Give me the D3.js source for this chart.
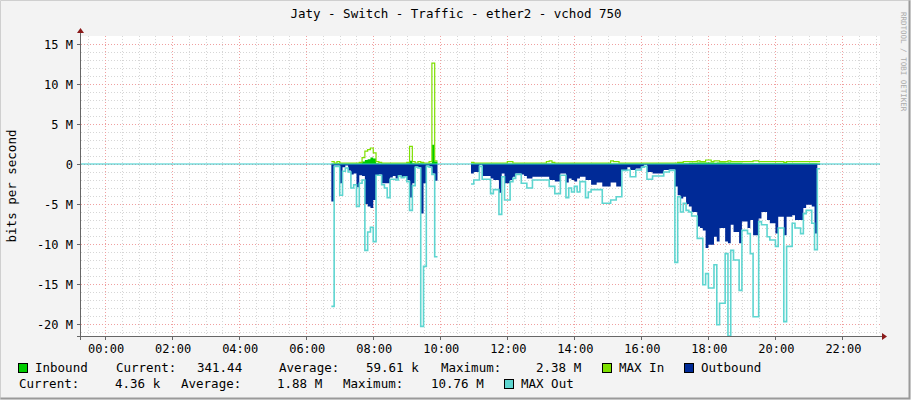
<!DOCTYPE html>
<html><head><meta charset="utf-8">
<script src="https://cdn.jsdelivr.net/npm/d3@7"></script>
<style>body{margin:0;background:#fff}text{font-family:"DejaVu Sans Mono",monospace;white-space:pre}</style>
</head><body><svg id="c" width="911" height="400"></svg>
<script>
// 5-minute samples starting 06:45, values in Mbit/s, null = no data
const startHour = 6.75, stepHours = 5 / 60;
const outAvg = [-4.7,-0.2,-0.2,-2.4,-0.4,-0.2,-0.8,-1.3,-1.2,-2.9,-1.4,-1.5,-5.0,-5.3,-5.5,-4.5,-1.4,-1.3,-2.4,-2.4,
  -2.4,-1.7,-1.5,-1.8,-1.4,-1.6,-1.5,-2.0,-4.2,-2.4,-0.3,-0.4,-6.2,-2.4,-0.2,-0.3,-1.2,-2.1,
  null,null,null,null,null,null,null,null,null,null,null,null,
  -1.2,-1.0,-1.0,-0.1,-1.5,-1.5,-1.5,-1.8,-2.0,-2.0,-3.6,-1.2,-2.4,-2.4,-2.0,-1.6,-1.2,-1.2,-1.3,-1.5,
  -1.8,-1.8,-1.6,-1.6,-1.6,-1.6,-1.6,-1.6,-2.0,-2.0,-2.2,-2.2,-1.2,-1.2,-2.3,-1.8,-2.0,-2.2,-1.8,-1.6,
  -1.6,-2.0,-2.0,-2.6,-2.6,-2.3,-2.3,-2.8,-2.8,-2.8,-2.3,-2.3,-2.8,-2.8,-0.75,-0.75,-0.4,-0.75,-0.75,-0.55,
  -0.55,-0.3,-0.1,-1.0,-1.0,-1.2,-1.2,-1.2,-1.2,-0.75,-0.75,-0.7,-0.7,-2.8,-3.9,-4.3,-4.1,-5.0,-5.3,-6.0,
  -6.0,-7.8,-8.0,-8.3,-10.5,-10.1,-10.1,-9.1,-9.7,-8.0,-8.0,-9.7,-9.9,-7.6,-8.5,-8.5,-9.9,-7.2,-7.2,-8.0,
  -7.0,-8.9,-8.9,-6.8,-6.0,-6.0,-7.0,-7.4,-7.4,-8.7,-6.6,-6.6,-8.9,-6.6,-6.6,-6.4,-7.0,-7.0,-7.0,-5.5,
  -5.1,-5.1,-5.3,-8.7,-0.1];
const outMax = [-17.8,-0.3,-0.3,-3.9,-0.9,-0.5,-1.0,-3.0,-2.6,-5.3,-2.4,-2.0,-10.8,-8.5,-7.9,-9.7,-1.4,-1.4,-2.6,-3.0,
  -4.2,-1.9,-1.9,-2.0,-1.5,-1.7,-1.6,-2.2,-5.8,-2.7,-0.4,-0.5,-20.3,-12.8,-0.3,-0.4,-1.3,-11.6,
  null,null,null,null,null,null,null,null,null,null,null,null,
  -2.5,-2.0,-2.0,-0.3,-1.9,-1.9,-1.9,-3.7,-3.2,-3.2,-6.3,-1.6,-4.5,-4.5,-2.2,-1.8,-1.3,-1.3,-2.4,-2.4,
  -3.0,-3.0,-2.0,-2.0,-2.0,-2.0,-2.0,-2.0,-2.8,-2.8,-3.7,-3.7,-1.4,-1.4,-4.2,-3.0,-3.5,-2.8,-3.5,-2.2,
  -2.2,-4.2,-3.5,-3.2,-3.2,-3.2,-3.2,-4.9,-4.9,-4.9,-4.5,-4.5,-4.1,-4.1,-0.8,-0.8,-0.75,-1.6,-1.6,-0.75,
  -0.75,-0.4,-0.3,-1.9,-1.9,-1.5,-1.5,-1.5,-1.5,-1.0,-1.0,-0.8,-0.8,-12.3,-4.1,-6.0,-4.9,-5.8,-6.0,-6.5,
  -6.5,-9.3,-9.3,-15.1,-13.7,-15.5,-15.5,-12.6,-20.1,-17.4,-17.4,-11.2,-21.5,-10.8,-12.0,-12.0,-15.8,-8.3,-8.3,-8.7,
  -11.2,-19.1,-19.1,-7.2,-7.6,-7.6,-9.1,-9.5,-9.5,-10.3,-8.0,-8.0,-19.7,-10.3,-10.3,-7.4,-8.0,-8.0,-8.7,-6.2,
  -5.8,-5.8,-7.4,-10.7,-0.6];
const inAvg = [0.05,0.1,0.1,0.05,0.05,0.05,0.05,0.05,0.05,0.05,0.1,0.3,0.5,0.6,0.8,0.7,0.1,0.05,0.05,0.05,
  0.05,0.05,0.05,0.05,0.05,0.05,0.05,0.1,0.4,0.1,0.05,0.1,0.1,0.05,0.05,0.1,2.4,0.3,
  null,null,null,null,null,null,null,null,null,null,null,null,
  0.05,0.05,0.05,0.05,0.05,0.05,0.05,0.05,0.05,0.05,0.05,0.05,0.05,0.05,0.05,0.05,0.05,0.05,0.05,0.05,
  0.05,0.05,0.05,0.05,0.05,0.05,0.05,0.05,0.05,0.05,0.05,0.05,0.05,0.05,0.05,0.05,0.05,0.05,0.05,0.05,
  0.05,0.05,0.05,0.05,0.05,0.05,0.05,0.05,0.05,0.05,0.05,0.05,0.05,0.05,0.05,0.05,0.05,0.05,0.05,0.05,
  0.05,0.05,0.05,0.05,0.05,0.05,0.05,0.05,0.05,0.05,0.05,0.05,0.05,0.05,0.1,0.1,0.1,0.1,0.15,0.15,
  0.15,0.2,0.2,0.2,0.2,0.2,0.2,0.15,0.2,0.2,0.2,0.15,0.2,0.15,0.15,0.15,0.15,0.1,0.1,0.1,
  0.1,0.1,0.1,0.1,0.1,0.1,0.1,0.1,0.1,0.1,0.1,0.1,0.1,0.1,0.1,0.1,0.1,0.1,0.1,0.1,
  0.1,0.1,0.1,0.1,0.05];
const inMax = [0.3,0.1,0.3,0.1,0.1,0.1,0.1,0.1,0.1,0.1,0.2,0.8,1.6,1.8,2.0,1.4,0.3,0.2,0.1,0.1,
  0.1,0.1,0.1,0.1,0.1,0.1,0.1,0.2,2.2,0.3,0.1,0.3,0.2,0.1,0.1,0.3,12.6,0.4,
  null,null,null,null,null,null,null,null,null,null,null,null,
  0.2,0.1,0.1,0.1,0.1,0.1,0.1,0.1,0.1,0.1,0.1,0.1,0.1,0.3,0.3,0.1,0.1,0.1,0.1,0.1,
  0.1,0.1,0.1,0.1,0.1,0.1,0.1,0.3,0.4,0.2,0.1,0.1,0.1,0.1,0.1,0.1,0.1,0.1,0.1,0.1,
  0.1,0.1,0.1,0.1,0.1,0.1,0.1,0.1,0.1,0.1,0.4,0.3,0.3,0.1,0.1,0.1,0.1,0.1,0.1,0.1,
  0.1,0.1,0.1,0.1,0.1,0.1,0.1,0.1,0.1,0.1,0.1,0.1,0.1,0.1,0.2,0.2,0.3,0.3,0.3,0.3,
  0.3,0.4,0.3,0.3,0.5,0.5,0.3,0.4,0.4,0.3,0.3,0.3,0.4,0.3,0.3,0.3,0.3,0.3,0.3,0.3,
  0.3,0.4,0.4,0.3,0.3,0.3,0.3,0.3,0.3,0.3,0.3,0.3,0.2,0.3,0.3,0.3,0.3,0.3,0.3,0.3,
  0.3,0.3,0.3,0.3,0.3];
const yTicks = [15, 10, 5, 0, -5, -10, -15, -20];
const xTickHours = [0, 2, 4, 6, 8, 10, 12, 14, 16, 18, 20, 22];

const svg = d3.select('#c');
const L = 81, R = 880, T = 36, B = 336;

svg.append('rect').attr('width', 911).attr('height', 400).attr('fill', '#f3f3f3');
svg.append('path').attr('d', 'M0.5,399.5V0.5H910.5').attr('stroke', '#cfcfcf').attr('fill', 'none');
svg.append('path').attr('d', 'M0.5,398.5H909.5V0.5').attr('stroke', '#9a9a9a').attr('stroke-width', 2).attr('fill', 'none');

const x = d3.scaleLinear().domain([-0.72, 23.12]).range([L, R]);
const y = d3.scaleLinear().domain([-21.5, 16]).range([B, T]);

svg.append('rect').attr('x', L).attr('y', T).attr('width', R - L).attr('height', B - T).attr('fill', '#fff');

const g = svg.append('g');
// minor grid
d3.range(-21, 16).forEach(v => {
  g.append('line').attr('x1', L).attr('x2', R).attr('y1', Math.round(y(v)) + 0.5).attr('y2', Math.round(y(v)) + 0.5)
    .attr('stroke', v % 5 === 0 ? '#f0a0a0' : '#d6d6d6').attr('stroke-dasharray', '1,2');
});
d3.range(-0.5, 23.1, 0.5).forEach(h => {
  g.append('line').attr('y1', T).attr('y2', B).attr('x1', Math.round(x(h)) + 0.5).attr('x2', Math.round(x(h)) + 0.5)
    .attr('stroke', h % 2 === 0 ? '#f0a0a0' : '#d6d6d6').attr('stroke-dasharray', '1,2');
});

const pts = arr => arr.map((v, i) => ({t: startHour + i * stepHours, v}));
const area = d3.area().curve(d3.curveStepAfter).x(d => x(d.t)).y0(y(0)).y1(d => y(d.v));
const line = d3.line().curve(d3.curveStepAfter).x(d => x(d.t)).y(d => y(d.v));

// split into segments so step ends are drawn at the gap
function segs(arr) {
  const out = []; let cur = [];
  pts(arr).forEach(p => { if (p.v === null) { if (cur.length) { cur.push({t: p.t, v: cur[cur.length - 1].v}); out.push(cur); cur = []; } } else cur.push(p); });
  if (cur.length) { cur.push({t: cur[cur.length - 1].t + stepHours, v: cur[cur.length - 1].v}); out.push(cur); }
  return out;
}

segs(inAvg).forEach(s => g.append('path').attr('d', area(s)).attr('fill', '#00cc00'));
segs(outAvg).forEach(s => g.append('path').attr('d', area(s)).attr('fill', '#002a97'));
segs(inMax).forEach(s => g.append('path').attr('d', line(s)).attr('fill', 'none').attr('stroke', '#7ee000').attr('stroke-width', 1.2));
segs(outMax).forEach(s => g.append('path').attr('d', line(s)).attr('fill', 'none').attr('stroke', '#5ed5d0').attr('stroke-width', 1.6));

g.append('line').attr('x1', L).attr('x2', R).attr('y1', y(0)).attr('y2', y(0)).attr('stroke', '#33cccc');

// axes
svg.append('line').attr('x1', L - 0.5).attr('x2', L - 0.5).attr('y1', T - 4).attr('y2', B + 4).attr('stroke', '#666');
svg.append('line').attr('x1', L - 4).attr('x2', R + 4).attr('y1', B + 0.5).attr('y2', B + 0.5).attr('stroke', '#666');
svg.append('path').attr('d', `M${L - 4},${T - 3}L${L - 0.5},${T - 8}L${L + 3},${T - 3}Z`).attr('fill', '#8b1a1a');
svg.append('path').attr('d', `M${R + 2},${B - 3}L${R + 7},${B + 0.5}L${R + 2},${B + 4}Z`).attr('fill', '#8b1a1a');
yTicks.forEach(v => {
  svg.append('line').attr('x1', L - 4).attr('x2', L).attr('y1', Math.round(y(v)) + 0.5).attr('y2', Math.round(y(v)) + 0.5).attr('stroke', '#666');
  svg.append('text').attr('x', 73).attr('y', y(v) + 4.5).attr('text-anchor', 'end').attr('font-size', 12).text(v === 0 ? '0' : v + ' M');
});
xTickHours.forEach(h => {
  svg.append('line').attr('y1', B).attr('y2', B + 4).attr('x1', Math.round(x(h)) + 0.5).attr('x2', Math.round(x(h)) + 0.5).attr('stroke', '#666');
  svg.append('text').attr('x', x(h) + 1).attr('y', B + 17).attr('text-anchor', 'middle').attr('font-size', 12)
    .text(String(h).padStart(2, '0') + ':00');
});

svg.append('text').attr('x', 456).attr('y', 18).attr('text-anchor', 'middle').attr('font-size', 12.5).text('Jaty - Switch - Traffic - ether2 - vchod 750');
svg.append('text').attr('transform', 'translate(16,186) rotate(-90)').attr('text-anchor', 'middle').attr('font-size', 12.5).text('bits per second');
svg.append('text').attr('transform', 'translate(901,12) rotate(90)').attr('font-size', 7.5).attr('fill', '#aaa').text('RRDTOOL / TOBI OETIKER');

// legend
const leg = [
  [35, 372, 'Inbound'], [116, 372, 'Current:'], [197, 372, '341.44'], [279, 372, 'Average:'], [366, 372, '59.61 k'],
  [441, 372, 'Maximum:'], [536, 372, '2.38 M'], [619, 372, 'MAX In'], [701, 372, 'Outbound'],
  [19, 388, 'Current:'], [115, 388, '4.36 k'], [181, 388, 'Average:'], [277, 388, '1.88 M'],
  [343, 388, 'Maximum:'], [431, 388, '10.76 M'], [521, 388, 'MAX Out']
];
leg.forEach(([lx, ly, t]) => svg.append('text').attr('x', lx).attr('y', ly).attr('font-size', 12.5).text(t));
[[18, 363, '#00cc00'], [602, 363, '#7ee000'], [684, 363, '#002a97'], [504, 379, '#5ed5d0']].forEach(([sx, sy, c]) =>
  svg.append('rect').attr('x', sx + 0.5).attr('y', sy + 0.5).attr('width', 9).attr('height', 9).attr('fill', c).attr('stroke', '#000'));
</script></body></html>
